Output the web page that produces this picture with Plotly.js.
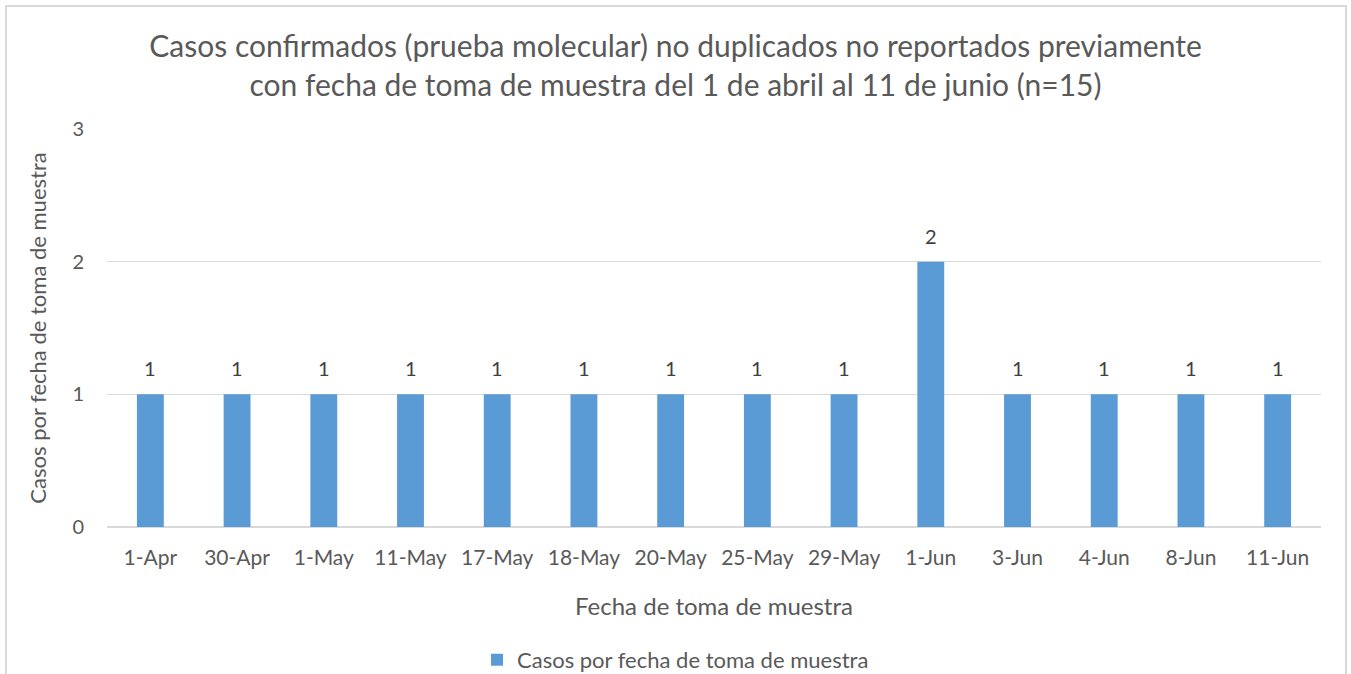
<!DOCTYPE html>
<html>
<head>
<meta charset="utf-8">
<script src="https://cdn.plot.ly/plotly-3.0.1.min.js"></script>
<style>
  html, body { margin:0; padding:0; background:#fff; overflow:hidden; }
  #chart { position:absolute; left:0; top:0; width:1351px; height:674px; }
  #frame { position:absolute; left:5px; top:5px; width:1338px; height:700px; border:2px solid #D9D9D9; pointer-events:none; }
</style>
</head>
<body>
<div id="chart"></div>
<div id="frame"></div>
<script>
const categories = ["1-Apr","30-Apr","1-May","11-May","17-May","18-May","20-May","25-May","29-May","1-Jun","3-Jun","4-Jun","8-Jun","11-Jun"];
const casos = [1,1,1,1,1,1,1,1,1,2,1,1,1,1];
const seriesName = "Casos por fecha de toma de muestra";
const yTicks = [0,1,2,3];

const FONT = "Lato, 'Open Sans', 'Liberation Sans', sans-serif";
const TXT = "#595959";

const trace = {
  type: "bar",
  x: categories,
  y: casos,
  name: seriesName,
  marker: { color: "#5B9BD5" },
  showlegend: true
};

const labels = categories.map((c, i) => ({
  x: c, y: casos[i], xref: "x", yref: "y",
  text: String(casos[i]), showarrow: false,
  yanchor: "middle", yshift: 26,
  font: { family: FONT, size: 20, color: "#404040" }
}));

const layout = {
  width: 1351, height: 674,
  margin: { l: 107, r: 30, t: 129, b: 147 },
  paper_bgcolor: "#fff", plot_bgcolor: "#fff",
  font: { family: FONT, color: TXT },
  bargap: 0.69,
  title: {
    text: "Casos confirmados (prueba molecular) no duplicados no reportados previamente<br>con fecha de toma de muestra del 1 de abril al 11 de junio (n=15)",
    font: { family: FONT, size: 30, color: TXT },
    x: 0.5, xanchor: "center", xref: "container",
    y: 0.916, yanchor: "middle", yref: "container"
  },
  xaxis: {
    type: "category",
    tickfont: { family: FONT, size: 21, color: TXT },
    showgrid: false, ticks: "", showline: false,
    ticklabelstandoff: 16,
    title: { text: "Fecha de toma de muestra", font: { family: FONT, size: 24, color: TXT }, standoff: 30 },
    automargin: false
  },
  yaxis: {
    range: [0, 3],
    tickvals: yTicks,
    tickfont: { family: FONT, size: 20, color: TXT },
    showgrid: true, gridcolor: "#D9D9D9", gridwidth: 1.5,
    zeroline: true, zerolinecolor: "#D9D9D9", zerolinewidth: 1.5,
    ticks: "", ticklabelstandoff: 22,
    title: { text: "Casos por fecha de toma de muestra", font: { family: FONT, size: 22, color: TXT }, standoff: 19 },
    automargin: false
  },
  annotations: labels,
  showlegend: true,
  legend: {
    orientation: "h", x: 0.5, xanchor: "center", xref: "container",
    y: 0.021, yanchor: "middle", yref: "container",
    itemwidth: 30,
    font: { family: FONT, size: 22, color: TXT }
  }
};

Plotly.newPlot("chart", [trace], layout, { displayModeBar: false, staticPlot: true });
</script>
</body>
</html>
